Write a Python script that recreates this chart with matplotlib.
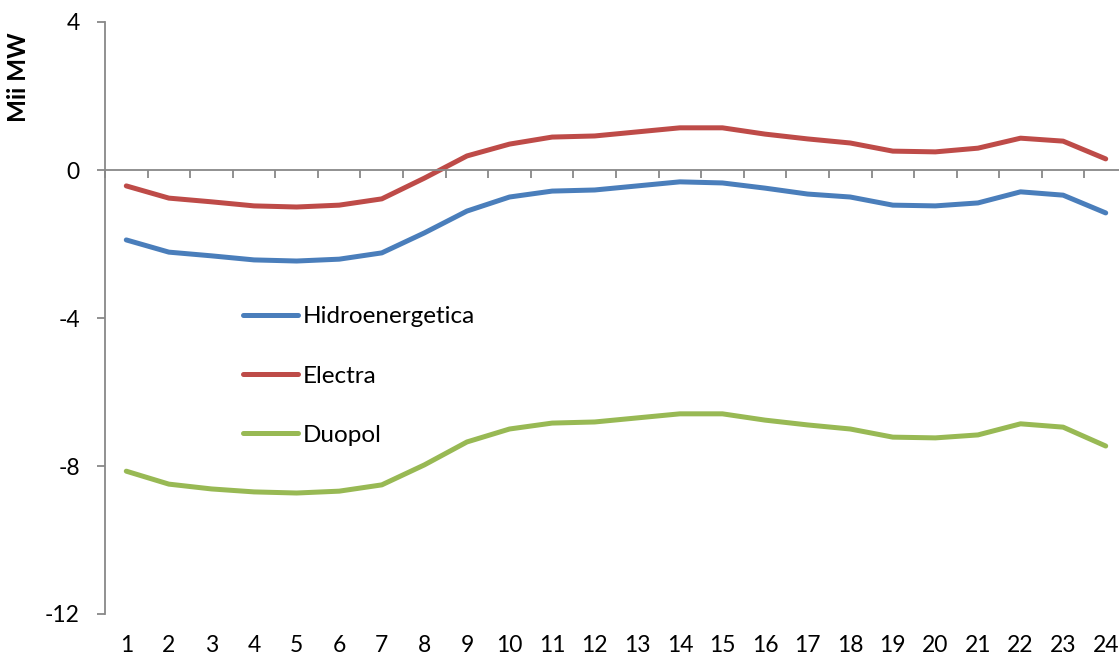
import matplotlib.pyplot as plt
import numpy as np

# ore 1..24, valori in Mii MW
hours = np.arange(1, 25)
hidro = [-1.89, -2.22, -2.32, -2.43, -2.46, -2.41, -2.24, -1.70, -1.11, -0.73, -0.57, -0.54,
         -0.43, -0.32, -0.35, -0.49, -0.65, -0.73, -0.95, -0.97, -0.89, -0.59, -0.68, -1.16]
electra = [-0.43, -0.76, -0.86, -0.97, -1.00, -0.95, -0.78, -0.22, 0.38, 0.70, 0.89, 0.92,
           1.03, 1.14, 1.14, 0.97, 0.84, 0.73, 0.51, 0.49, 0.59, 0.86, 0.78, 0.30]
duopol = [-8.14, -8.49, -8.62, -8.70, -8.73, -8.68, -8.51, -7.97, -7.35, -7.00, -6.84, -6.81,
          -6.70, -6.59, -6.59, -6.76, -6.89, -7.00, -7.22, -7.24, -7.16, -6.86, -6.95, -7.46]
labels = ["Hidroenergetica", "Electra", "Duopol"]
colors = ["#4A7EBB", "#BE4B48", "#98B954"]

plt.rcParams['font.family'] = ['Lato', 'DejaVu Sans']
fs = 16.5

fig = plt.figure(figsize=(11.19, 6.62), dpi=100)
ax = fig.add_axes([105/1119, 1-614/662, 1022/1119, 592/662])

for serie, lab, col in zip([hidro, electra, duopol], labels, colors):
    ax.plot(hours, serie, color=col, lw=3.6, label=lab, solid_capstyle='round')

ax.set_xlim(0.5, 24.5)
ax.set_ylim(-12, 4)
ax.set_yticks([-12, -8, -4, 0, 4])
ax.set_yticklabels(["-12", "-8", "-4", "0", "4"], fontsize=fs)

# axa x trece prin 0, etichetele jos
ax.spines['bottom'].set_position(('data', 0))
ax.spines['top'].set_visible(False)
ax.spines['right'].set_visible(False)
for s in ['bottom', 'left']:
    ax.spines[s].set_color('#888888')
    ax.spines[s].set_linewidth(1.3)
ax.set_xticks(np.arange(0.5, 25, 1.0))
ax.set_xticklabels([])
ax.set_xticks(hours, minor=True)
ax.set_xticklabels([str(h) for h in hours], minor=True, fontsize=fs)
ax.tick_params(axis='x', which='major', direction='out', length=6, color='#888888', width=1.3)
ax.tick_params(axis='x', which='minor', length=0, pad=335)
ax.tick_params(axis='y', direction='out', length=6, color='#888888', width=1.3, pad=12)

ax.set_ylabel("Mii MW", fontsize=17.5, fontweight='bold', loc='top')
ax.yaxis.set_label_coords(-0.073, 0.983)

ax.legend(loc='center left', bbox_to_anchor=(0.135, 0.402), frameon=False, fontsize=17.5,
          handlelength=2.25, handletextpad=0.2, labelspacing=1.58, borderpad=0, borderaxespad=0)

plt.savefig("out.png", dpi=100)
